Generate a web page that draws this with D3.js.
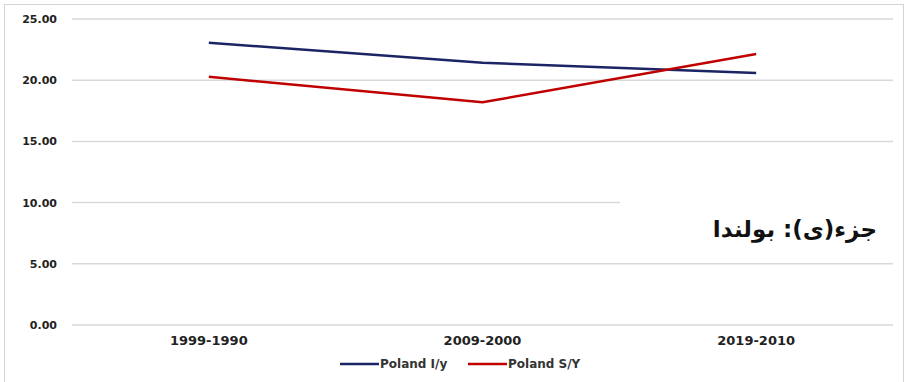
<!DOCTYPE html>
<html>
<head>
<meta charset="utf-8">
<script src="https://cdn.jsdelivr.net/npm/d3@7"></script>
<style>
  body { margin: 0; background: #fff; }
  svg { display: block; }
</style>
</head>
<body>
<svg id="chart" width="915" height="382"></svg>
<script>
// data
var periods = ["1999-1990", "2009-2000", "2019-2010"];
var polandIY = [23.06, 21.43, 20.59];
var polandSY = [20.28, 18.19, 22.14];
var yTicks = [0, 5, 10, 15, 20, 25];
var seriesNames = ["Poland I/y", "Poland S/Y"];
var seriesColors = ["#1b2464", "#c00000"];
var title = "جزء(ی): بولندا";

var svg = d3.select("#chart");

// outer frame
svg.append("rect")
	.attr("x", 4.5).attr("y", 4.5)
	.attr("width", 899).attr("height", 400)
	.attr("fill", "#fff")
	.attr("stroke", "#d4d4d4");

var plotL = 72, plotR = 893, plotT = 19, plotB = 325;

var x = d3.scalePoint()
	.domain(periods)
	.range([plotL, plotR])
	.padding(0.5);

var y = d3.scaleLinear()
	.domain([0, 25])
	.range([plotB, plotT]);

// gridlines
svg.append("g")
	.selectAll("line")
	.data(yTicks)
	.enter()
	.append("line")
	.attr("x1", plotL).attr("x2", plotR)
	.attr("y1", d => y(d)).attr("y2", d => y(d))
	.attr("stroke", "#d9d9d9")
	.attr("stroke-width", 1.5);

// y labels
svg.append("g")
	.selectAll("text")
	.data(yTicks)
	.enter()
	.append("text")
	.attr("x", 57)
	.attr("y", d => y(d) + 4)
	.attr("text-anchor", "end")
	.style("font", "bold 11px 'DejaVu Sans'")
	.attr("fill", "#222")
	.text(d => d.toFixed(2));

// x labels
svg.append("g")
	.selectAll("text")
	.data(periods)
	.enter()
	.append("text")
	.attr("x", d => x(d))
	.attr("y", 345)
	.attr("text-anchor", "middle")
	.style("font", "bold 13px 'DejaVu Sans'")
	.attr("fill", "#222")
	.text(d => d);

// lines
var line = d3.line()
	.x((d, i) => x(periods[i]))
	.y(d => y(d));

[polandIY, polandSY].forEach(function(s, k) {
	svg.append("path")
		.datum(s)
		.attr("d", line)
		.attr("fill", "none")
		.attr("stroke", seriesColors[k])
		.attr("stroke-width", 2.5)
		.attr("stroke-linejoin", "round");
});

// title box covering the grid
svg.append("rect")
	.attr("x", 620).attr("y", 196)
	.attr("width", 276).attr("height", 56)
	.attr("fill", "#fff");

svg.append("text")
	.attr("x", 877)
	.attr("y", 237)
	.attr("text-anchor", "end")
	.style("font", "bold 23px 'DejaVu Sans'")
	.attr("fill", "#111")
	.text(title);

// legend
var legX = [340, 468];
seriesNames.forEach(function(n, k) {
	var g = svg.append("g").attr("transform", "translate(" + legX[k] + ",364)");
	g.append("line")
		.attr("x1", 0).attr("x2", 39)
		.attr("stroke", seriesColors[k])
		.attr("stroke-width", 2.5);
	g.append("text")
		.attr("x", 40).attr("y", 4)
		.style("font", "bold 12px 'DejaVu Sans'")
		.attr("fill", "#333")
		.text(n);
});
</script>
</body>
</html>
